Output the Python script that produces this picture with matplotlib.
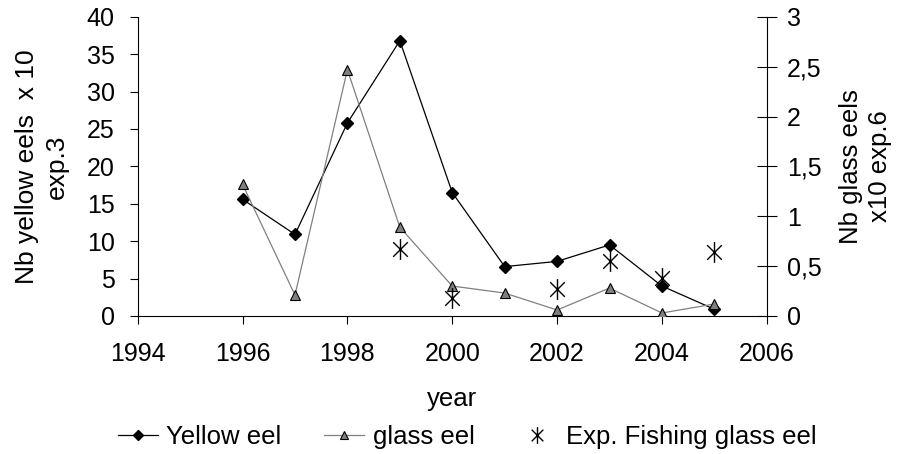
import matplotlib
matplotlib.use('Agg')
import matplotlib.pyplot as plt
from matplotlib.path import Path

plt.rcParams['font.family'] = ['Liberation Sans', 'DejaVu Sans']

# yellow eels (left axis, x10^3)
years_yellow = [1996, 1997, 1998, 1999, 2000, 2001, 2002, 2003, 2004, 2005]
yellow = [15.6, 10.9, 25.8, 36.8, 16.5, 6.6, 7.3, 9.5, 4.0, 0.9]

# glass eels (right axis, x10^6)
years_glass = [1996, 1997, 1998, 1999, 2000, 2001, 2002, 2003, 2004, 2005]
glass = [1.32, 0.21, 2.47, 0.89, 0.30, 0.23, 0.06, 0.28, 0.03, 0.12]

# experimental fishing glass eels (right axis)
years_exp = [1999, 2000, 2002, 2003, 2004, 2005]
exp_fish = [0.67, 0.18, 0.27, 0.55, 0.38, 0.645]

# excel style star: an x with a vertical bar through it
star = Path([(-0.7, -0.7), (0.7, 0.7), (-0.7, 0.7), (0.7, -0.7), (0, -1), (0, 1)],
            [Path.MOVETO, Path.LINETO, Path.MOVETO, Path.LINETO, Path.MOVETO, Path.LINETO])

fs = 18
fig = plt.figure(figsize=(9, 4.54), dpi=100)
ax = fig.add_axes([0.153, 0.304, 0.699, 0.659])
ax2 = ax.twinx()

l1, = ax.plot(years_yellow, yellow, color='black', lw=0.9, marker='D', ms=6.5,
              mfc='black', mec='black', label='Yellow eel', zorder=3)
l2, = ax2.plot(years_glass, glass, color='#808080', lw=0.9, marker='^', ms=7.5,
               mfc='#808080', mec='black', mew=0.8, label='glass eel', zorder=2)
l3, = ax2.plot(years_exp, exp_fish, ls='none', marker=star, ms=15,
               mec='black', mew=1.0, color='black', label='Exp. Fishing glass eel')

ax.set_xlim(1994, 2006)
ax.set_ylim(0, 40)
ax.set_xticks(range(1994, 2007, 2))
ax.set_yticks(range(0, 41, 5))
ax2.set_ylim(0, 3)
ax2.set_yticks([0, 0.5, 1, 1.5, 2, 2.5, 3])
ax2.set_yticklabels(['0', '0,5', '1', '1,5', '2', '2,5', '3'])

for a in (ax, ax2):
    a.spines['top'].set_visible(False)
ax.spines['right'].set_visible(False)
ax2.spines['left'].set_visible(False)
ax2.spines['bottom'].set_visible(False)

ax.tick_params(axis='x', direction='out', length=6, width=0.8, labelsize=fs, pad=13)
ax.tick_params(axis='y', direction='out', length=6, width=0.8, labelsize=fs, pad=10.5)
ax2.tick_params(axis='y', direction='inout', length=15, width=0.8, labelsize=fs, pad=7)

ax.set_xlabel('year', fontsize=18.5, labelpad=15)
ax.set_ylabel('Nb yellow eels  x 10\nexp.3', fontsize=19, linespacing=1.3)
ax.yaxis.set_label_coords(-0.11, 0.5)
ax2.set_ylabel('Nb glass eels\nx10 exp.6', fontsize=18.5, linespacing=1.25)
ax2.yaxis.set_label_coords(1.115, 0.5)

fig.legend(handles=[l1, l2, l3], loc='center left', bbox_to_anchor=(118 / 900, 0.038),
           ncol=3, frameon=False, fontsize=18.5, handlelength=1.55, columnspacing=1.68,
           handletextpad=0.32, markerscale=0.8, borderpad=0, borderaxespad=0)

fig.savefig('out.png', dpi=100)
